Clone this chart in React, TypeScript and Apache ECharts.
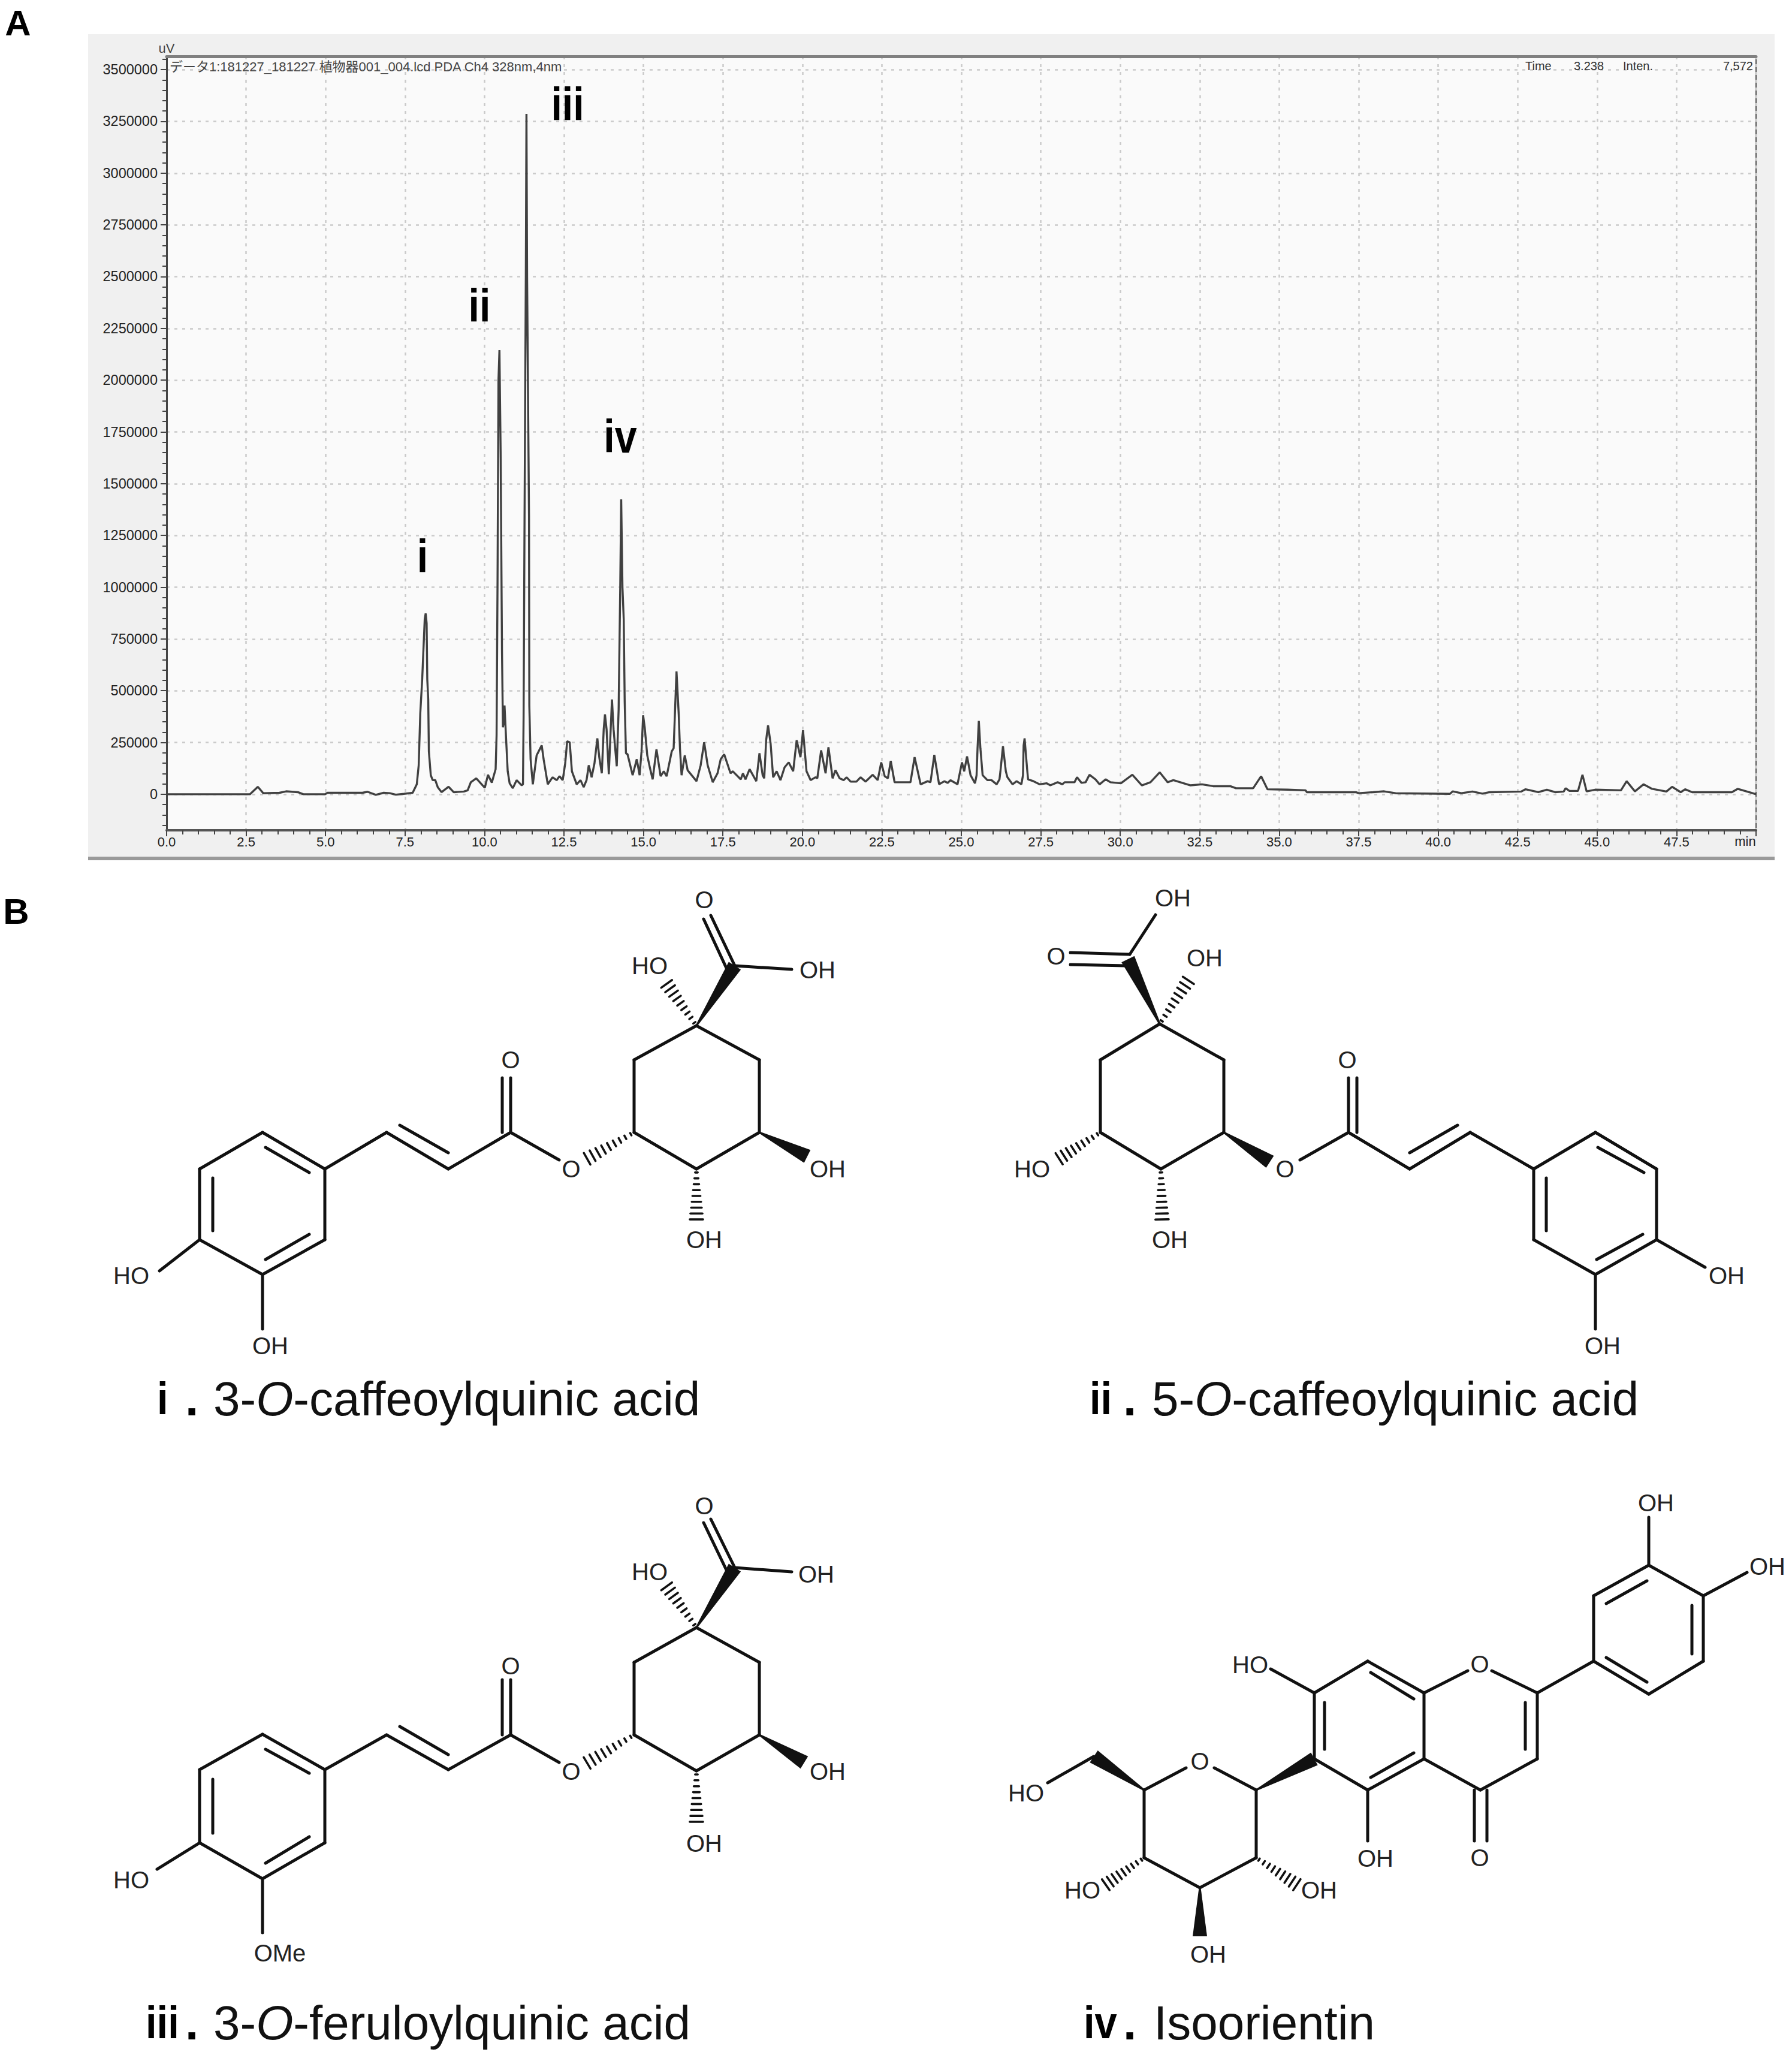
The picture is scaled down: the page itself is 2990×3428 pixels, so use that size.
import React, { useEffect, useRef } from "react";
import * as echarts from "echarts";

// Chromatogram: retention time in minutes, intensity in thousands of uV
const times = [
  0, 2.62, 2.87, 3.04, 3.55, 3.76, 4.13, 4.3, 4.98, 5.06, 6.16, 6.32, 6.58, 6.83, 7.02, 7.21, 7.46, 7.74, 7.87, 7.93, 7.98, 8.04, 8.12, 8.15, 8.18, 8.2, 8.23, 8.25, 8.31, 8.37, 8.45, 8.53, 8.65, 8.87, 9.03, 9.35, 9.47, 9.57, 9.74, 10.01, 10.11, 10.23, 10.35,
  10.38, 10.41, 10.44, 10.47, 10.51, 10.55, 10.58, 10.6, 10.63, 10.68, 10.73, 10.79, 10.89, 11.01, 11.17, 11.21, 11.23, 11.26, 11.3, 11.32, 11.34, 11.4, 11.41, 11.45, 11.52, 11.64, 11.8, 11.86, 11.99, 12.14, 12.27, 12.36, 12.46, 12.54, 12.6, 12.68, 12.75, 12.9, 13.02, 13.12, 13.21, 13.28, 13.37, 13.46, 13.55, 13.61, 13.69, 13.75, 13.79, 13.84, 13.91, 13.97, 14.01, 14.06, 14.16, 14.22, 14.27, 14.3, 14.34, 14.38, 14.41, 14.45,
  14.5, 14.66, 14.79, 14.88, 14.94, 14.99, 15.04, 15.12, 15.2, 15.29, 15.41, 15.54, 15.64, 15.73, 15.89, 15.95, 16.0, 16.04, 16.11, 16.15, 16.2, 16.3, 16.39, 16.67, 16.8, 16.91, 17.02, 17.18, 17.33, 17.43, 17.54, 17.74, 17.81, 18.06, 18.13, 18.21, 18.34, 18.55, 18.65, 18.75, 18.8, 18.86, 18.92, 19.0, 19.08, 19.19, 19.31, 19.44, 19.57, 19.71, 19.82, 19.94, 20.02, 20.13, 20.26, 20.41, 20.47, 20.59, 20.73, 20.82, 20.95, 21.04, 21.17, 21.3, 21.39, 21.52, 21.7, 21.83, 21.99,
  22.21, 22.37, 22.48, 22.59, 22.69, 22.78, 22.9, 23.03, 23.4, 23.53, 23.72, 23.94, 24.03, 24.15, 24.3, 24.47, 24.57, 24.66, 24.88, 25.02, 25.09, 25.18, 25.29, 25.43, 25.48, 25.51, 25.55, 25.6, 25.67, 25.82, 25.95, 26.11, 26.2, 26.23, 26.31, 26.4, 26.45, 26.61, 26.74, 26.89, 26.94, 26.96, 26.99, 27.07, 27.1, 27.27, 27.46, 27.68, 27.8, 28.03, 28.18, 28.25, 28.56, 28.64, 28.78, 28.91, 29.03, 29.22, 29.35, 29.54, 29.69,
  30.02, 30.38, 30.68, 30.95, 31.24, 31.49, 31.67, 32.21, 32.57, 32.92, 33.46, 33.64, 34.18, 34.43, 34.63, 35.26, 35.83, 35.87, 37.41, 37.5, 37.95, 38.3, 38.66, 40.37, 40.46, 40.73, 41.08, 41.39, 41.62, 42.61, 42.75, 43.15, 43.42, 43.68, 43.95, 44.01, 44.13, 44.4, 44.54, 44.67, 44.94, 45.75, 45.93, 46.19, 46.46, 46.73, 47.18, 47.36, 47.63, 47.77, 47.99, 49.24, 49.42, 49.78, 50,
];
const intensities = [
  0, 0, 36, 5, 7, 14, 10, 0, 0, 7, 7, 12, -3, 7, 5, -2, 2, 7, 48, 140, 391, 555, 847, 873, 825, 555, 458, 207, 92, 68, 69, 34, 10, 36, 10, 13, 19, 58, 77, 31, 94, 56, 121,
  285, 1025, 2000, 2145, 1615, 690, 323, 343, 429, 265, 111, 53, 29, 68, 43, 48, 376, 1343, 2500, 3286, 2500, 1343, 429, 169, 48, 188, 236, 169, 48, 82, 68, 87, 68, 150, 256, 251, 111, 48, 68, 34, 68, 140, 82, 150, 270, 179, 101, 314, 386, 314, 97, 314, 458, 314, 135, 410, 1000, 1424, 1000, 844, 449, 198,
  193, 92, 169, 92, 207, 381, 323, 188, 130, 72, 217, 87, 111, 87, 207, 222, 429, 593, 386, 217, 92, 188, 116, 63, 140, 251, 140, 58, 101, 169, 193, 101, 111, 72, 101, 72, 121, 63, 198, 92, 77, 261, 333, 246, 82, 111, 68, 130, 154, 111, 261, 179, 309, 111, 68, 82, 77, 212, 101, 227, 77, 116, 77, 68, 82, 61, 61, 82, 61,
  94, 68, 154, 87, 77, 161, 58, 58, 58, 179, 48, 63, 58, 190, 48, 63, 55, 68, 48, 154, 111, 183, 92, 53, 92, 222, 354, 222, 92, 68, 68, 48, 72, 111, 232, 111, 82, 48, 63, 48, 92, 236, 270, 121, 72, 63, 48, 53, 43, 58, 48, 58, 58, 82, 55, 58, 94, 72, 48, 72, 58,
  53, 94, 43, 58, 106, 58, 68, 43, 48, 39, 39, 29, 29, 87, 24, 22, 19, 10, 10, 5, 10, 14, 5, 2, 14, 5, 13, 3, 10, 13, 24, 10, 22, 10, 13, 29, 16, 16, 94, 14, 22, 19, 63, 14, 48, 26, 13, 36, 10, 24, 10, 10, 26, 10, 0,
];
const yMajorTicks = [0, 250000, 500000, 750000, 1000000, 1250000, 1500000, 1750000, 2000000, 2250000, 2500000, 2750000, 3000000, 3250000, 3500000];
const yMinorTicks = [-150000, -100000, -50000, 0, 50000, 100000, 150000, 200000, 250000, 300000, 350000, 400000, 450000, 500000, 550000, 600000, 650000, 700000, 750000, 800000, 850000, 900000, 950000, 1000000, 1050000, 1100000, 1150000, 1200000, 1250000, 1300000, 1350000, 1400000, 1450000, 1500000, 1550000, 1600000, 1650000, 1700000, 1750000, 1800000, 1850000, 1900000, 1950000, 2000000, 2050000, 2100000, 2150000, 2200000, 2250000, 2300000, 2350000, 2400000, 2450000, 2500000, 2550000, 2600000, 2650000, 2700000, 2750000, 2800000, 2850000, 2900000, 2950000, 3000000, 3050000, 3100000, 3150000, 3200000, 3250000, 3300000, 3350000, 3400000, 3450000, 3500000, 3550000];

const FONT = '"Liberation Sans", "Noto Sans CJK JP", sans-serif';
const INK = "#111";

type Seg = number[];
type Lab = [string, number, number];
interface Mol { bonds: Seg[]; wedges: Seg[]; hashes: Seg[]; labels: Lab[] }

const mol1: Mol = {
  bonds: [
    [1162, 1711, 1267, 1768], [1267, 1768, 1267, 1889], [1267, 1889, 1162, 1950], [1162, 1950, 1058, 1889], [1058, 1889, 1058, 1768], [1058, 1768, 1162, 1711],
    [1226, 1611, 1321, 1617], [1226, 1611, 1186, 1527], [1213, 1617, 1174, 1533],
    [933, 1935, 852, 1889], [852, 1889, 852, 1798], [838, 1889, 838, 1798], [852, 1889, 748, 1950], [748, 1950, 645, 1889], [667, 1877, 748, 1923], [645, 1889, 542, 1950],
    [542, 1950, 438, 1889], [438, 1889, 333, 1950], [333, 1950, 333, 2068], [333, 2068, 438, 2126], [438, 2126, 542, 2068], [542, 2068, 542, 1950],
    [443, 1914, 516, 1956], [355, 1965, 355, 2053], [443, 2101, 516, 2059], [333, 2068, 266, 2120], [438, 2126, 438, 2217],
  ],
  wedges: [[1162, 1711, 1226, 1611], [1267, 1889, 1347, 1929]],
  hashes: [[1162, 1711, 1110, 1638], [1162, 1950, 1162, 2038], [1058, 1889, 976, 1935]],
  labels: [["O", 1175, 1501], ["OH", 1364, 1618], ["HO", 1084, 1611], ["OH", 1381, 1950], ["OH", 1175, 2068], ["O", 953, 1950], ["O", 852, 1768], ["HO", 219, 2128], ["OH", 451, 2245]],
};
const mol2: Mol = {
  bonds: [
    [1935, 1708, 2042, 1768], [2042, 1768, 2042, 1889], [2042, 1889, 1937, 1950], [1937, 1950, 1836, 1889], [1836, 1889, 1836, 1768], [1836, 1768, 1935, 1708],
    [1885, 1592, 1928, 1526], [1885, 1592, 1786, 1589], [1879, 1611, 1786, 1609],
    [2169, 1935, 2250, 1889], [2250, 1889, 2250, 1798], [2264, 1889, 2264, 1798], [2250, 1889, 2352, 1950], [2352, 1950, 2453, 1889], [2352, 1923, 2432, 1877], [2453, 1889, 2559, 1950],
    [2559, 1950, 2662, 1889], [2662, 1889, 2764, 1950], [2764, 1950, 2764, 2068], [2764, 2068, 2662, 2126], [2662, 2126, 2559, 2068], [2559, 2068, 2559, 1950],
    [2580, 1965, 2580, 2053], [2666, 1914, 2743, 1956], [2741, 2059, 2664, 2101], [2764, 2068, 2845, 2114], [2662, 2126, 2662, 2217],
  ],
  wedges: [[1935, 1708, 1882, 1600], [2042, 1889, 2119, 1938]],
  hashes: [[1935, 1708, 1985, 1632], [1836, 1889, 1764, 1935], [1937, 1950, 1939, 2038]],
  labels: [["OH", 1957, 1498], ["O", 1762, 1595], ["OH", 2010, 1598], ["HO", 1722, 1950], ["OH", 1952, 2068], ["O", 2144, 1950], ["O", 2248, 1768], ["OH", 2881, 2128], ["OH", 2674, 2245]],
};
const mol3: Mol = {
  bonds: [
    [1162, 2715, 1267, 2773], [1267, 2773, 1267, 2894], [1267, 2894, 1162, 2954], [1162, 2954, 1058, 2894], [1058, 2894, 1058, 2773], [1058, 2773, 1162, 2715],
    [1226, 2615, 1321, 2622], [1226, 2615, 1186, 2534], [1213, 2621, 1174, 2540],
    [933, 2940, 852, 2894], [852, 2894, 852, 2802], [838, 2894, 838, 2802], [852, 2894, 748, 2952], [748, 2952, 645, 2894], [667, 2880, 748, 2927], [645, 2894, 542, 2952],
    [542, 2952, 438, 2893], [438, 2893, 333, 2952], [333, 2952, 333, 3074], [333, 3074, 438, 3134], [438, 3134, 542, 3074], [542, 3074, 542, 2952],
    [443, 2918, 516, 2958], [355, 2968, 355, 3058], [443, 3108, 516, 3064], [333, 3074, 262, 3118], [438, 3134, 438, 3224],
  ],
  wedges: [[1162, 2715, 1226, 2615], [1267, 2894, 1342, 2940]],
  hashes: [[1162, 2715, 1110, 2643], [1162, 2954, 1162, 3043], [1058, 2894, 976, 2943]],
  labels: [["O", 1175, 2512], ["OH", 1362, 2626], ["HO", 1084, 2622], ["OH", 1381, 2955], ["OH", 1175, 3075], ["O", 953, 2955], ["O", 852, 2779], ["HO", 219, 3136], ["OMe", 467, 3258]],
};
const mol4: Mol = {
  bonds: [
    [1909, 2986, 1979, 2949], [2026, 2949, 2096, 2986], [2096, 2986, 2096, 3099], [2096, 3099, 2002, 3149], [2002, 3149, 1909, 3099], [1909, 3099, 1909, 2986],
    [1825, 2930, 1748, 2974],
    [2193, 2934, 2193, 2824], [2193, 2824, 2282, 2771], [2282, 2771, 2376, 2824], [2376, 2824, 2376, 2934], [2376, 2934, 2282, 2986], [2282, 2986, 2193, 2934],
    [2210, 2918, 2210, 2840], [2287, 2790, 2359, 2834], [2287, 2965, 2359, 2924],
    [2193, 2824, 2120, 2784], [2282, 2986, 2282, 3071],
    [2376, 2824, 2449, 2787], [2489, 2787, 2565, 2824], [2565, 2824, 2565, 2934], [2545, 2840, 2545, 2918], [2565, 2934, 2470, 2986], [2470, 2986, 2376, 2934],
    [2460, 2986, 2460, 3071], [2481, 2986, 2481, 3071],
    [2565, 2824, 2659, 2771], [2659, 2771, 2659, 2662], [2659, 2662, 2751, 2611], [2751, 2611, 2842, 2662], [2842, 2662, 2842, 2771], [2842, 2771, 2751, 2826], [2751, 2826, 2659, 2771],
    [2680, 2675, 2748, 2637], [2823, 2678, 2823, 2759], [2748, 2806, 2680, 2765],
    [2751, 2611, 2751, 2531], [2842, 2662, 2915, 2623],
  ],
  wedges: [[1909, 2986, 1825, 2930], [2096, 2986, 2193, 2934], [2002, 3149, 2002, 3230]],
  hashes: [[1909, 3099, 1842, 3146], [2096, 3099, 2167, 3146]],
  labels: [["O", 2002, 2938], ["HO", 1712, 2991], ["HO", 2086, 2777], ["OH", 2295, 3100], ["O", 2469, 2776], ["O", 2469, 3099], ["OH", 2763, 2507], ["OH", 2949, 2613], ["HO", 1806, 3153], ["OH", 2201, 3153], ["OH", 2016, 3260]],
};

function textEl(text: string, x: number, y: number, fontSize: number, fill = INK, extra: any = {}, align = "center", scaleX = 1) {
  return {
    type: "text", x, y, scaleX, z: 20, silent: true,
    style: { text, fontSize, fontFamily: FONT, fill, align, verticalAlign: "middle", ...extra },
  };
}

function molecule(m: Mol) {
  const out: any[] = [];
  const lineEl = (a: number, b: number, c: number, d: number, w: number) => ({
    type: "line", z: 10, silent: true,
    shape: { x1: a, y1: b, x2: c, y2: d },
    style: { stroke: INK, lineWidth: w, lineCap: "round" },
  });
  m.bonds.forEach(([a, b, c, d]) => out.push(lineEl(a, b, c, d, 5)));
  m.wedges.forEach(([a, b, c, d]) => {
    const L = Math.hypot(c - a, d - b);
    const nx = -(d - b) / L;
    const ny = (c - a) / L;
    out.push({
      type: "polygon", z: 10, silent: true,
      shape: { points: [[a + nx * 1.5, b + ny * 1.5], [c + nx * 12, d + ny * 12], [c - nx * 12, d - ny * 12], [a - nx * 1.5, b - ny * 1.5]] },
      style: { fill: INK },
    });
  });
  m.hashes.forEach(([a, b, c, d]) => {
    const L = Math.hypot(c - a, d - b);
    const nx = -(d - b) / L;
    const ny = (c - a) / L;
    for (let i = 0; i < 9; i++) {
      const t = (i + 0.6) / 9;
      const px = a + (c - a) * t;
      const py = b + (d - b) * t;
      const hw = 1.5 + 10 * t;
      out.push(lineEl(px + nx * hw, py + ny * hw, px - nx * hw, py - ny * hw, 3.6));
    }
  });
  m.labels.forEach(([s, x, y]) => out.push(textEl(s, x, y, 40, "#222")));
  return out;
}

// numeral, dot and name of a compound, each placed where the reference has it
function caption(num: string, numX: number, dotX: number, name: string, nameX: number, y: number) {
  const parts = name.split("|");
  const rich = {
    o: { fontSize: 80, fontFamily: FONT, fontStyle: "italic", fill: "#111" },
    n: { fontSize: 80, fontFamily: FONT, fill: "#111" },
  };
  const body = parts.length === 3 ? `{n|${parts[0]}}{o|${parts[1]}}{n|${parts[2]}}` : `{n|${name}}`;
  return [
    textEl(num, numX, y - 1, 76, "#000", { fontWeight: "bold" }, "left", 0.88),
    textEl(".", dotX, y, 80, "#000", { fontWeight: "bold" }),
    { type: "text", x: nameX, y, z: 20, silent: true, style: { text: body, fontSize: 80, fontFamily: FONT, fill: "#111", align: "left", verticalAlign: "middle", rich } },
  ];
}

const bold = { fontWeight: "bold" };

export default function App() {
  const ref = useRef<HTMLDivElement>(null);
  useEffect(() => {
    const chart = echarts.init(ref.current!, null, { renderer: "svg" });
    const axisName = { color: "#444", fontSize: 22, fontFamily: FONT };
    chart.setOption({
      animation: false,
      backgroundColor: "#fff",
      grid: { left: 278, top: 94, width: 2652, height: 1291, show: true, backgroundColor: "#fafafa", borderColor: "#555", borderWidth: 2, containLabel: false },
      xAxis: [
        {
          type: "value", min: 0, max: 50, interval: 2.5, minorTick: { show: true, splitNumber: 5, length: 7, lineStyle: { color: "#444", width: 2 } },
          axisLine: { show: true, onZero: false, lineStyle: { color: "#555", width: 4 } },
          axisTick: { show: true, length: 10, lineStyle: { color: "#444", width: 2 } },
          axisLabel: { color: "#222", fontSize: 22, fontFamily: FONT, margin: 8, formatter: (v: number) => (v === 50 ? "" : v.toFixed(1)) },
          splitLine: { show: true, lineStyle: { color: "#cacaca", width: 2.5, type: [5, 8] } },
        },
        {
          type: "value", min: 0, max: 50, position: "top", interval: 2.5,
          axisLine: { show: true, onZero: false, lineStyle: { color: "#808080", width: 5 } },
          axisTick: { show: false }, axisLabel: { show: false }, splitLine: { show: false },
        },
      ],
      yAxis: [
        {
          type: "value", min: -174000, max: 3564000, name: "uV", nameLocation: "end", nameGap: 3, nameTextStyle: axisName,
          axisLine: { show: true, onZero: false, lineStyle: { color: "#444", width: 3 } },
          axisTick: { show: true, length: 10, customValues: yMajorTicks, lineStyle: { color: "#444", width: 2 } },
          axisLabel: { color: "#222", fontSize: 23.5, fontFamily: FONT, margin: 15, customValues: yMajorTicks, formatter: (v: number) => String(v) },
          splitLine: { show: true, lineStyle: { color: "#cacaca", width: 2.5, type: [5, 8] } },
        },
        {
          type: "value", min: -174000, max: 3564000, position: "left",
          axisLine: { show: false, onZero: false },
          axisTick: { show: true, length: 7, customValues: yMinorTicks, lineStyle: { color: "#444", width: 2 } },
          axisLabel: { show: false }, splitLine: { show: false },
        },
      ],
      series: [
        {
          type: "line", name: "PDA Ch4 328nm", xAxisIndex: 0, yAxisIndex: 0, symbol: "none", smooth: false, z: 5,
          lineStyle: { color: "#404040", width: 3.4 },
          data: times.map((t, i) => [t, intensities[i] * 1000]),
        },
      ],
      graphic: {
        elements: [
          { type: "rect", z: -5, silent: true, shape: { x: 147, y: 57, width: 2814, height: 1374 }, style: { fill: "#f0f0f0" } },
          { type: "rect", z: -4, silent: true, shape: { x: 147, y: 1429, width: 2814, height: 6 }, style: { fill: "#9a9a9a" } },
          textEl("データ1:181227_181227 植物器001_004.lcd PDA Ch4 328nm,4nm", 283, 111, 22, "#444", {}, "left"),
          textEl("Time", 2545, 110, 20, "#333", {}, "left"),
          textEl("3.238", 2626, 110, 20, "#333", {}, "left"),
          textEl("Inten.", 2708, 110, 20, "#333", {}, "left"),
          textEl("7,572", 2925, 110, 20, "#333", {}, "right"),
          textEl("min", 2912, 1403, 22, "#222"),
          textEl("A", 30, 38, 60, "#000", bold),
          textEl("B", 27, 1520, 60, "#000", bold),
          textEl("i", 705, 928, 78, "#000", bold, "center", 0.85),
          textEl("ii", 800, 510, 78, "#000", bold, "center", 0.85),
          textEl("iii", 947, 174, 78, "#000", bold, "center", 0.85),
          textEl("iv", 1035, 728, 78, "#000", bold, "center", 0.85),
          ...molecule(mol1),
          ...molecule(mol2),
          ...molecule(mol3),
          ...molecule(mol4),
          ...caption("i", 262, 320, "3-|O|-caffeoylquinic acid", 356, 2333),
          ...caption("ii", 1818, 1885, "5-|O|-caffeoylquinic acid", 1922, 2333),
          ...caption("iii", 243, 320, "3-|O|-feruloylquinic acid", 356, 3374),
          ...caption("iv", 1808, 1885, "Isoorientin", 1925, 3374),
        ],
      },
    });
    return () => chart.dispose();
  }, []);
  return <div ref={ref} style={{ position: "absolute", left: 0, top: 0, width: 2990, height: 3428 }} />;
}
